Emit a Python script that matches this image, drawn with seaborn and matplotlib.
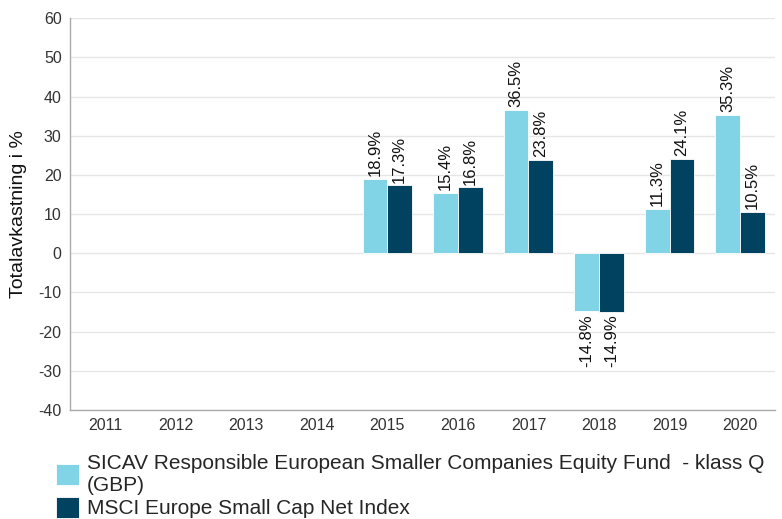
import numpy as np
import pandas as pd
import matplotlib.pyplot as plt
import seaborn as sns

# === data ===
years = ['2011', '2012', '2013', '2014', '2015', '2016', '2017', '2018', '2019', '2020']
fund = [np.nan, np.nan, np.nan, np.nan, 18.9, 15.4, 36.5, -14.8, 11.3, 35.3]
index = [np.nan, np.nan, np.nan, np.nan, 17.3, 16.8, 23.8, -14.9, 24.1, 10.5]
series_names = ['SICAV Responsible European Smaller Companies Equity Fund  - klass Q\n(GBP)',
                'MSCI Europe Small Cap Net Index']
colors = ['#80d4e6', '#004260']

df = pd.DataFrame({
    'year': years * 2,
    'value': fund + index,
    'series': [series_names[0]] * len(years) + [series_names[1]] * len(years),
})

sns.set_theme(style='white')
plt.rcParams['font.family'] = ['Liberation Sans', 'DejaVu Sans']
plt.rcParams['axes.unicode_minus'] = False

fig = plt.figure(figsize=(7.82, 5.19), dpi=100)
ax = fig.add_axes([0.0895, 0.21, 0.902, 0.755])

sns.barplot(data=df, x='year', y='value', hue='series', order=years,
            hue_order=series_names, palette=colors, saturation=1, width=0.7,
            edgecolor='white', linewidth=0.6, ax=ax, legend=True)

# etiketter på staplarna
for cont in ax.containers:
    labels = ['' if np.isnan(v) else f'{v:.1f}%' for v in cont.datavalues]
    ax.bar_label(cont, labels=labels, rotation=90, padding=2, fontsize=12, color='#111111')

ax.set_ylim(-40, 60)
ax.set_yticks(range(-40, 61, 10))
ax.set_xlim(-0.5, len(years) - 0.5)
ax.yaxis.grid(True, color='#e6e6e6', linewidth=1)
ax.set_axisbelow(True)
for s in ['top', 'right']:
    ax.spines[s].set_visible(False)
for s in ['left', 'bottom']:
    ax.spines[s].set_color('#aaaaaa')
    ax.spines[s].set_linewidth(1)
ax.tick_params(axis='both', length=0, labelsize=11.5, colors='#333333', pad=6)
ax.set_xlabel('')
ax.set_ylabel('Totalavkastning i %', fontsize=14, color='#111111', labelpad=8)

handles, labels = ax.get_legend_handles_labels()
ax.legend(handles, labels, loc='upper left', bbox_to_anchor=(-0.031, -0.09),
          frameon=False, fontsize=15, handlelength=1.1, handleheight=1.2,
          handletextpad=0.35, labelspacing=0.1, borderaxespad=0)

fig.savefig('out.png', dpi=100)
